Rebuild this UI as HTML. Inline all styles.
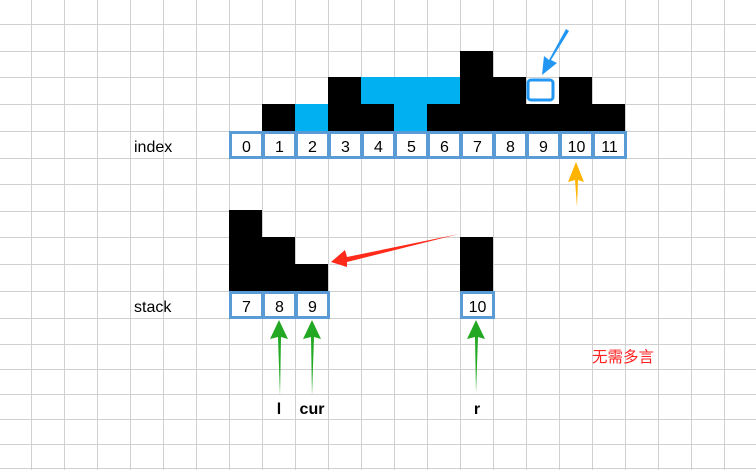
<!DOCTYPE html>
<html><head><meta charset="utf-8"><style>
html,body{margin:0;padding:0;background:#fff}
svg{display:block}
text{font-family:"Liberation Sans","Noto Sans CJK SC",sans-serif}
</style></head><body>
<svg width="756" height="470" viewBox="0 0 756 470">
<g id="grid"></g>
<g id="marks"></g>
<text x="134" y="152" font-size="16" fill="#000">index</text>
<text x="134" y="312" font-size="16" fill="#000">stack</text>
<text x="592" y="362" font-size="15.5" fill="#ff2020" font-family="'Noto Sans CJK SC',sans-serif">无需多言</text>
<text x="279" y="414" font-size="16" font-weight="bold" text-anchor="middle">l</text>
<text x="312" y="414" font-size="16" font-weight="bold" text-anchor="middle">cur</text>
<text x="477" y="414" font-size="16" font-weight="bold" text-anchor="middle">r</text>
<polygon points="459,234 347,257 345,250 331,262 347,267 347,262" fill="#ff2a1a"/>
<polygon points="577,207 575,180 568,182 576,162 584,182 578,180" fill="#ffb400"/>
<polygon points="569,31 551,60 557,63 542,75 544,56 549,60 566,29" fill="#2196f3"/>
<polygon points="280,396 278,337 270,339 279,320 288,339 281,337" fill="#22a822"/>
<polygon points="312,396 311,337 303,339 312,320 321,339 314,337" fill="#22a822"/>
<polygon points="476,393 475,337 467,339 476,320 485,339 478,337" fill="#22a822"/>
</svg>
<script>
const indexHeights=[0,1,0,2,1,0,1,3,2,1,2,1];
const waterLevels=[0,0,1,0,2,2,2,0,0,2,0,0];
const indexLabels=["0","1","2","3","4","5","6","7","8","9","10","11"];
const stackIdx=[7,8,9];
const stackHeights=[3,2,1];
const rIdx=[10];
const rHeights=[2];
const NS="http://www.w3.org/2000/svg";
const grid=document.getElementById('grid'),marks=document.getElementById('marks');
function mk(p,tag,a){const e=document.createElementNS(NS,tag);for(const k in a)e.setAttribute(k,a[k]);p.appendChild(e);return e;}
const hl=[24,51,77,104,131,158,184,211,237,264,291,318,344,369,394,419,444,468];
for(let x=-2;x<=756;x+=33){const l=mk(grid,'line',{x1:x+0.5,x2:x+0.5,y1:0,y2:470,stroke:'#d0d0d0','stroke-width':1});

}
hl.forEach(y=>{const l=mk(grid,'line',{x1:0,x2:756,y1:y+0.5,y2:y+0.5,stroke:'#d0d0d0','stroke-width':1});

});
const X0=229,CW=33;
const colX=i=>X0+i*CW;
const topIdx=[131,104,77,51,24];
const topStk=[291,264,237,210,184];
const barY=(tops,h)=>tops[h];
indexHeights.forEach((h,i)=>{
 const w=waterLevels[i];
 if(w>h){
  if(i===9){const r=mk(marks,'rect',{x:colX(i)+2,y:barY(topIdx,w)+1,width:29,height:26,fill:'#fff'});
   
   
   const b=mk(marks,'rect',{x:colX(i)+2,y:barY(topIdx,w)+3,width:25,height:20,rx:3,fill:'none',stroke:'#2196f3','stroke-width':3});
   
   }
  else{const r=mk(marks,'rect',{x:colX(i),y:barY(topIdx,w),width:CW,height:131-barY(topIdx,w),fill:'#00b0f0'});
   
   }
 }
 if(h>0){const r=mk(marks,'rect',{x:colX(i),y:barY(topIdx,h),width:CW,height:131-barY(topIdx,h),fill:'#000'});
  
  }
 const c=mk(marks,'rect',{x:colX(i)+1.5,y:132.5,width:CW-1,height:25,fill:'#fff',stroke:'#5b9bd5','stroke-width':3});
 
 
 const t=mk(marks,'text',{x:colX(i)+CW/2+1,y:152,'font-size':16,'text-anchor':'middle'});t.textContent=indexLabels[i];
 
 
});
function stackGroup(idx,hs){idx.forEach((v,k)=>{
 const pos=v<=9?(v-7):(v-3);const x=colX(pos);const h=hs[k];
 const r=mk(marks,'rect',{x:x,y:barY(topStk,h),width:CW,height:291-barY(topStk,h),fill:'#000'});
 
 
 const c=mk(marks,'rect',{x:x+1.5,y:292.5,width:CW-1,height:25,fill:'#fff',stroke:'#5b9bd5','stroke-width':3});
 
 
 const t=mk(marks,'text',{x:x+CW/2+1,y:312,'font-size':16,'text-anchor':'middle'});t.textContent=String(v);
 
 
});}
stackGroup(stackIdx,stackHeights);
stackGroup(rIdx,rHeights);
</script>
</body></html>
